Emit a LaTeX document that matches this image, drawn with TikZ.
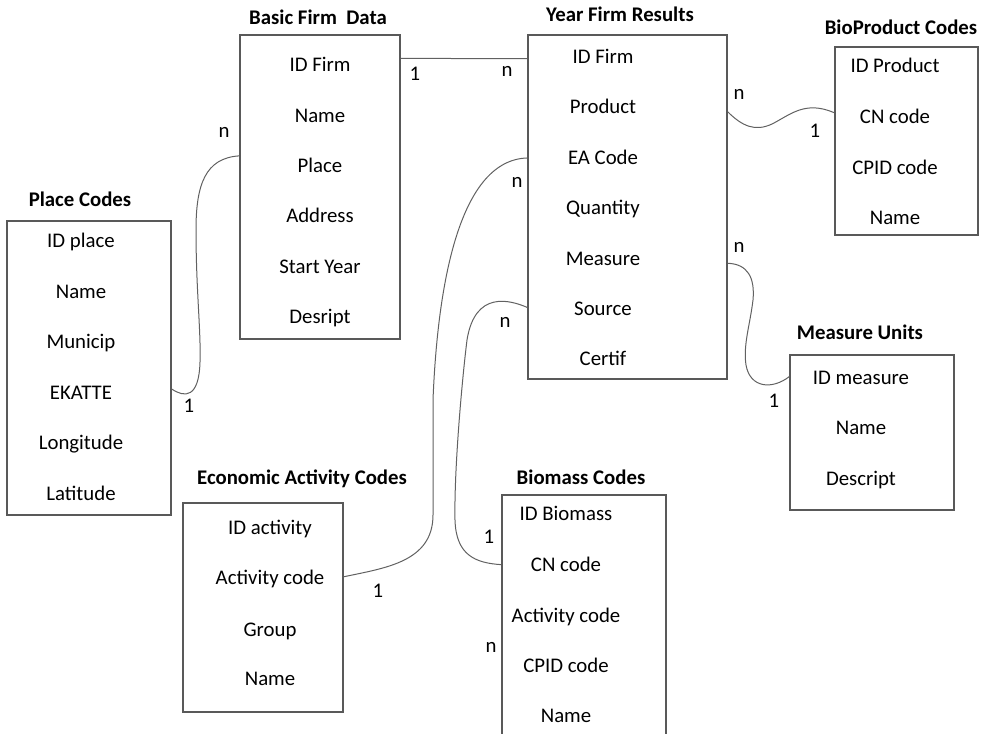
\documentclass[tikz,border=0pt]{standalone}
\usepackage{fontspec}
\setmainfont{Carlito}
\usetikzlibrary{fit,calc}
\begin{document}
\begin{tikzpicture}[x=0.75pt,y=-0.75pt,
  tbl/.style={draw=black!65, line width=0.95pt, inner sep=0pt},
  fld/.style={anchor=base, inner sep=0pt, font=\fontsize{15.6}{18}\selectfont, text=black},
  ttl/.style={anchor=base, inner sep=0pt, font=\fontsize{15.6}{18}\selectfont\bfseries, text=black},
  card/.style={anchor=base, inner sep=0pt, font=\fontsize{15.6}{18}\selectfont, text=black},
  link/.style={draw=black!62, line width=0.75pt}]
\useasboundingbox (0,0) rectangle (983,734);

% ---------- tables ----------
\node[tbl, fit={(240,35)(400,339)}] (basic) {};
\node[tbl, fit={(528,35)(727,379)}] (year) {};
\node[tbl, fit={(835,47)(978,235)}] (bioprod) {};
\node[tbl, fit={(7,221)(171,515)}] (place) {};
\node[tbl, fit={(183,503)(343,712)}] (econ) {};
\node[tbl, fit={(502,495)(666,760)}] (biomass) {};
\node[tbl, fit={(790,355)(954,510)}] (measure) {};

% ---------- titles ----------
\node[ttl] (t-basic) at (318,25) {Basic Firm\ \ Data};
\node[ttl] (t-year) at (620,22) {Year Firm Results};
\node[ttl] (t-bioprod) at (901,35) {BioProduct Codes};
\node[ttl] (t-place) at (80,207) {Place Codes};
\node[ttl] (t-econ) at (302,485) {Economic Activity Codes};
\node[ttl] (t-biomass) at (581,485) {Biomass Codes};
\node[ttl] (t-measure) at (860,340) {Measure Units};

% ---------- Basic Firm Data ----------
\node[fld] (b1) at (320,72) {ID Firm};
\node[fld] (b2) at (320,123) {Name};
\node[fld] (b3) at (320,173) {Place};
\node[fld] (b4) at (320,223) {Address};
\node[fld] (b5) at (320,274) {Start Year};
\node[fld] (b6) at (320,324) {Desript};

% ---------- Year Firm Results ----------
\node[fld] (y1) at (603,64) {ID Firm};
\node[fld] (y2) at (603,114) {Product};
\node[fld] (y3) at (603,165) {EA Code};
\node[fld] (y4) at (603,215) {Quantity};
\node[fld] (y5) at (603,266) {Measure};
\node[fld] (y6) at (603,316) {Source};
\node[fld] (y7) at (603,366) {Certif};

% ---------- BioProduct Codes ----------
\node[fld] (p1) at (895,73) {ID Product};
\node[fld] (p2) at (895,124) {CN code};
\node[fld] (p3) at (895,175) {CPID code};
\node[fld] (p4) at (895,225) {Name};

% ---------- Place Codes ----------
\node[fld] (c1) at (81,248) {ID place};
\node[fld] (c2) at (81,299) {Name};
\node[fld] (c3) at (81,349) {Municip};
\node[fld] (c4) at (81,400) {EKATTE};
\node[fld] (c5) at (81,450) {Longitude};
\node[fld] (c6) at (81,501) {Latitude};

% ---------- Economic Activity Codes ----------
\node[fld] (e1) at (270,535) {ID activity};
\node[fld] (e2) at (270,585) {Activity code};
\node[fld] (e3) at (270,636) {Group};
\node[fld] (e4) at (270,685) {Name};

% ---------- Biomass Codes ----------
\node[fld] (m1) at (566,521) {ID Biomass};
\node[fld] (m2) at (566,571) {CN code};
\node[fld] (m3) at (566,622) {Activity code};
\node[fld] (m4) at (566,672) {CPID code};
\node[fld] (m5) at (566,722) {Name};

% ---------- Measure Units ----------
\node[fld] (u1) at (861,385) {ID measure};
\node[fld] (u2) at (861,435) {Name};
\node[fld] (u3) at (861,486) {Descript};

% ---------- relations ----------
\draw[link] ($(basic.north east)!0.079!(basic.south east)$) -- ($(year.north west)!0.070!(year.south west)$);

\draw[link] ($(basic.north west)!0.398!(basic.south west)$)
  .. controls (205,158) and (196,185) .. (196,230)
  .. controls (196,290) and (201,330) .. (200,362)
  .. controls (199,398) and (185,398) .. ($(place.north east)!0.571!(place.south east)$);

\draw[link] ($(econ.north east)!0.354!(econ.south east)$)
  .. controls (385,568) and (433,562) .. (433,515)
  -- (433,400)
  .. controls (437,300) and (455,160) .. ($(year.north west)!0.358!(year.south west)$);

\draw[link] ($(year.north west)!0.791!(year.south west)$)
  .. controls (510,300) and (475,290) .. (467,340)
  .. controls (462,380) and (454,470) .. (455,520)
  .. controls (456,555) and (475,563) .. ($(biomass.north west)!0.264!(biomass.south west)$);

\draw[link] ($(year.north east)!0.224!(year.south east)$)
  .. controls (742,126) and (755,132) .. (772,124)
  .. controls (790,115) and (805,100) .. ($(bioprod.north west)!0.351!(bioprod.south west)$);

\draw[link] ($(year.north east)!0.663!(year.south east)$)
  .. controls (748,264) and (755,278) .. (753,300)
  .. controls (750,325) and (743,345) .. (746,365)
  .. controls (750,388) and (772,390) .. ($(measure.north west)!0.142!(measure.south west)$);

% ---------- cardinalities ----------
\node[card] (k1) at (415,81) {1};
\node[card] (k2) at (507,77) {n};
\node[card] (k3) at (224,138) {n};
\node[card] (k4) at (189,413) {1};
\node[card] (k5) at (517,188) {n};
\node[card] (k6) at (378,598) {1};
\node[card] (k7) at (505,328) {n};
\node[card] (k8) at (489,543) {1};
\node[card] (k9) at (739,100) {n};
\node[card] (k10) at (815,138) {1};
\node[card] (k11) at (739,253) {n};
\node[card] (k12) at (774,408) {1};
\node[card] (k13) at (491,652) {n};
\end{tikzpicture}
\end{document}
